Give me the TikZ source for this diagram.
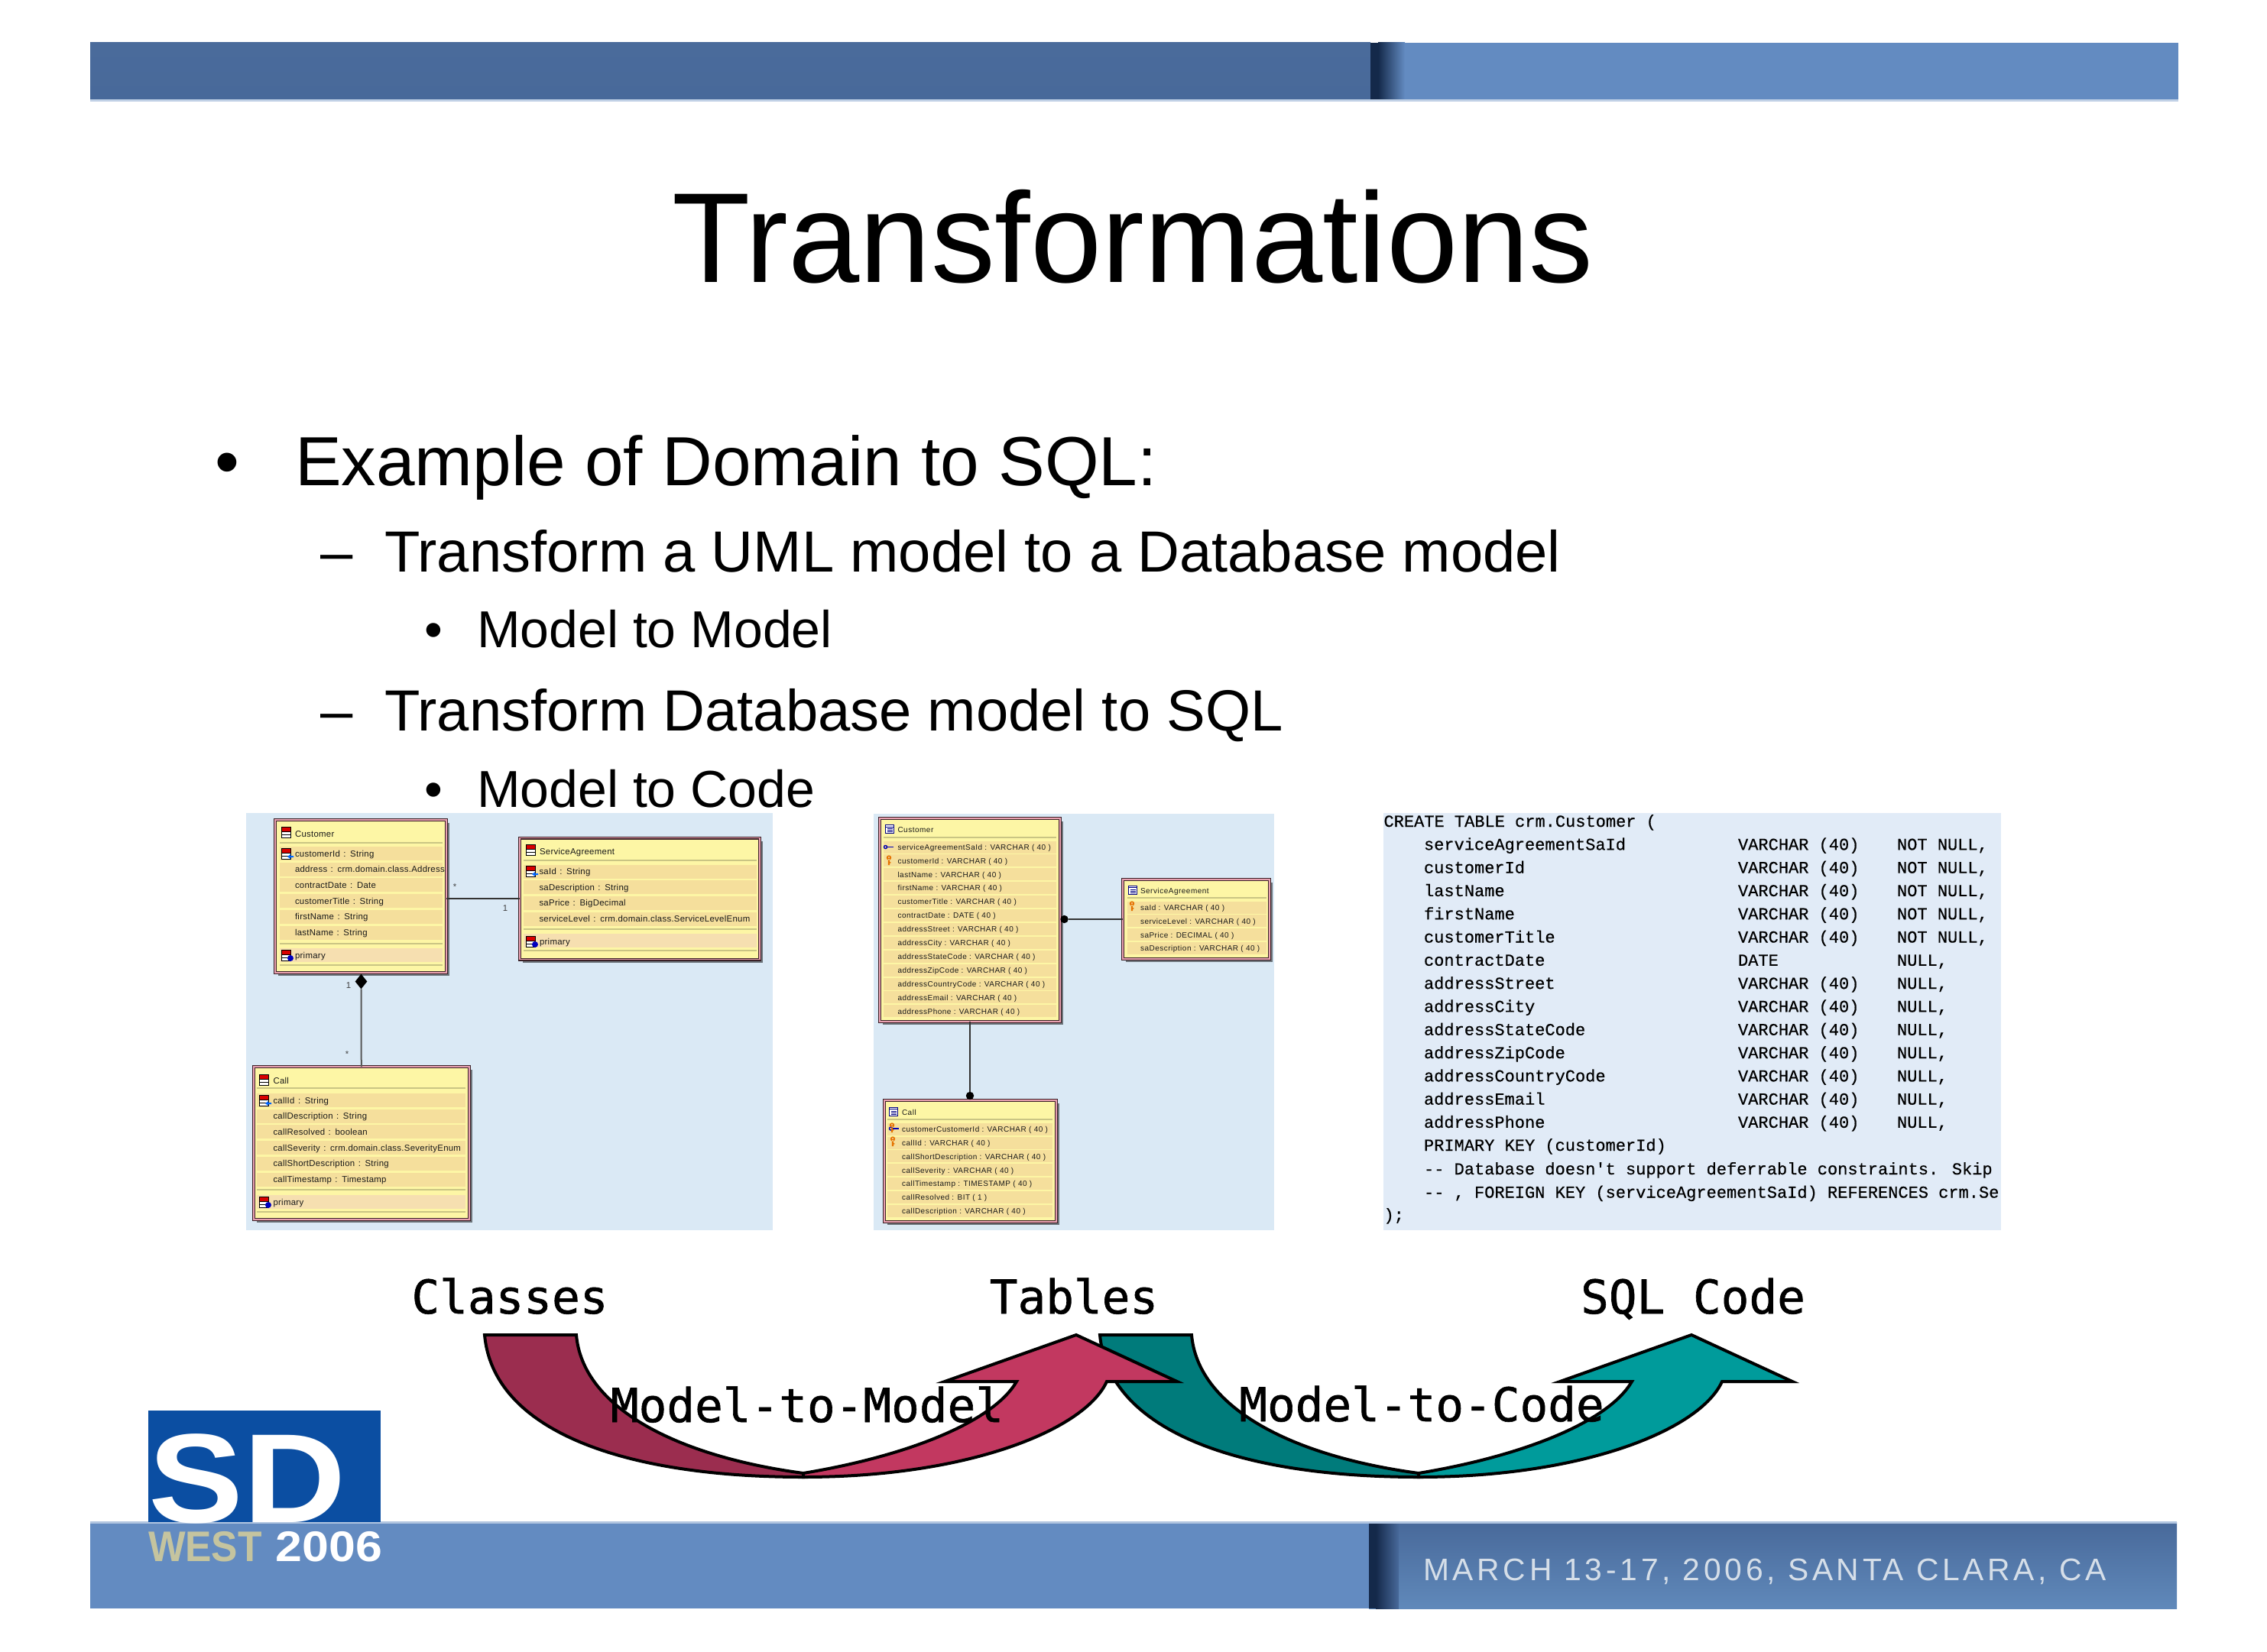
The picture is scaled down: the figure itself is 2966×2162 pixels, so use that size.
\documentclass[tikz,border=0pt]{standalone}
\usepackage{fontspec}
\usetikzlibrary{shapes.geometric,shadows}
\setmainfont{Liberation Sans}
\newfontfamily\umlfont[LetterSpace=2.5,WordSpace=1.3]{Liberation Sans}
\newfontfamily\erfont[LetterSpace=5]{Liberation Sans}
\newfontfamily\datefont[LetterSpace=11.6]{Liberation Sans}
\newfontfamily\sqlfont[FakeBold=0.5]{Liberation Mono}
\newfontfamily\labelfont[FakeBold=1]{DejaVu Sans Mono}
\newfontfamily\logofont[FakeStretch=1.12]{Liberation Sans}
\newfontfamily\westfont[FakeStretch=0.92]{Liberation Sans}
\definecolor{bandlight}{HTML}{638BC1}
\definecolor{bandtop}{HTML}{4A6B9B}
\definecolor{bandmid}{HTML}{4474AE}
\definecolor{bandlow}{HTML}{48699A}
\definecolor{bandink}{HTML}{14294A}
\definecolor{panelblue}{HTML}{DAE9F5}
\definecolor{sqlblue}{HTML}{E1EBF7}
\definecolor{boxyellow}{HTML}{FDF6A5}
\definecolor{rowgold}{HTML}{F5DF9C}
\definecolor{rowpeach}{HTML}{F6DFB0}
\definecolor{boxrim}{HTML}{E8A0B0}
\definecolor{boxedge}{HTML}{3A2026}
\definecolor{logoblue}{HTML}{0B4EA2}
\definecolor{westtan}{HTML}{C5C49F}
\definecolor{datewhite}{HTML}{D5DEE8}
\definecolor{wineleft}{HTML}{9B2D4F}
\definecolor{wineright}{HTML}{C23860}
\definecolor{tealleft}{HTML}{007B7B}
\definecolor{tealright}{HTML}{009B9B}
\begin{document}
\begin{tikzpicture}[
  x=0.25pt, y=-0.25pt,
  every node/.style={inner sep=0pt, outer sep=0pt},
  umlbox/.style={draw=boxedge, line width=0.35pt, double=boxrim, double distance=0.3pt, fill=boxyellow,
    drop shadow={shadow xshift=1pt, shadow yshift=-1pt, fill=black, opacity=0.5}},
  umltext/.style={anchor=base west, text=black!90, font=\umlfont\fontsize{2.85}{3}\selectfont},
  ertext/.style={anchor=base west, text=black!90, font=\erfont\fontsize{2.5}{3}\selectfont},
  sqltext/.style={anchor=base west, font=\sqlfont\fontsize{5.5}{6}\selectfont},
  titletext/.style={anchor=base, font=\fontsize{41.9}{44}\selectfont},
  levelone/.style={anchor=base west, font=\fontsize{22.75}{25}\selectfont},
  leveltwo/.style={anchor=base west, font=\fontsize{19}{21}\selectfont},
  levelthree/.style={anchor=base west, font=\fontsize{17}{19}\selectfont},
  arrowlabel/.style={anchor=base, font=\labelfont\fontsize{15.25}{16}\selectfont},
  mult/.style={text=black!75, font=\fontsize{2.85}{3}\selectfont},
  link/.style={draw=black!80, line width=0.35pt},
  knob/.style={circle, fill=black, minimum size=2.6pt},
  divider/.style={draw=black!20!boxyellow, line width=0.3pt},
  iconline/.style={draw=black, line width=0.2pt},
  classicon/.pic={
    \fill[white] (-6,-7) rectangle (6,7);
    \fill[red!85!black] (-6,-7) rectangle (6,-1);
    \draw[iconline] (-6,-7) rectangle (6,7) (-6,-1) -- (6,-1) (-6,3) -- (6,3);
  },
  attricon/.pic={
    \pic {classicon};
    \fill[blue!60!cyan] (2,4) -- (6,1) -- (6,3) -- (10,3) -- (10,5) -- (6,5) -- (6,7) -- cycle;
  },
  primaryicon/.pic={
    \pic {classicon};
    \fill[blue!75!black] (6,4) circle (4);
  },
  tableicon/.pic={
    \fill[white] (-5.5,-5.5) rectangle (5.5,5.5);
    \draw[blue!50!black, line width=0.25pt] (-5.5,-5.5) rectangle (5.5,5.5) (-5.5,-3) -- (5.5,-3);
    \draw[blue!50!black, line width=0.2pt] (-3.5,-0.5) -- (3.5,-0.5) (-3.5,1.5) -- (3.5,1.5) (-3.5,3.5) -- (3.5,3.5);
  },
  goldkey/.pic={
    \fill[orange!90!black] (0,-3.5) circle (3.2) (-1.2,-2) rectangle (1.2,6) (1.2,2) rectangle (2.4,3.5);
    \fill[white] (0,-4) circle (0.9);
  },
  bluekey/.pic={
    \draw[blue!70!black, line width=0.35pt] (-4.5,0) circle (2);
    \fill[blue!70!black] (-2.5,-0.8) rectangle (5.5,0.8);
  },
]
\useasboundingbox (0,0) rectangle (2966,2162);

\fill[bandlight] (118,56) rectangle (2850,133);
\shade[top color=bandtop, middle color=bandmid, bottom color=bandlow] (118,56) rectangle (1793,131);
\fill[bandink] (1793,56) rectangle (1803,131);
\shade[left color=bandink, right color=bandlight] (1803,56) rectangle (1838,131);
\fill[bandlight!40!white] (118,130) rectangle (2850,133);

\fill[bandlight] (118,1992) rectangle (2848,2105);
\shade[top color=bandlow, bottom color=bandmid!85!white] (1791,1992) rectangle (2848,2105);
\fill[bandink] (1791,1994) rectangle (1800,2105);
\shade[left color=bandink, right color=bandlow] (1800,1994) rectangle (1830,2105);
\fill[bandlight!50!white] (118,1991) rectangle (2848,1994);

\node[titletext] (title) at (1482,369) {Transformations};
\node[levelone] (bulletA) at (281,635) {•};
\node[levelone] (itemA) at (386,635) {Example of Domain to SQL:};
\node[leveltwo] (dashA) at (419,748) {–};
\node[leveltwo] (itemB) at (503,748) {Transform a UML model to a Database model};
\node[levelthree] (bulletB) at (555,847) {•};
\node[levelthree] (itemC) at (624,847) {Model to Model};
\node[leveltwo] (dashB) at (419,956) {–};
\node[leveltwo] (itemD) at (503,956) {Transform Database model to SQL};
\node[levelthree] (bulletC) at (555,1056) {•};
\node[levelthree] (itemE) at (624,1056) {Model to Code};

\fill[panelblue] (322,1064) rectangle (1011,1610);
\fill[panelblue] (1143,1065) rectangle (1667,1610);
\fill[sqlblue] (1810,1064) rectangle (2618,1610);

\node[umlbox, minimum width=56pt, minimum height=50pt] (cust) at (472,1173) {};
\node[umlbox, minimum width=78.5pt, minimum height=39.75pt] (sagr) at (837,1176) {};
\node[umlbox, minimum width=70.5pt, minimum height=50pt] (call) at (473,1496) {};
\node[diamond, fill=black, minimum width=3.9pt, minimum height=4.9pt] (comp) at (472.5,1284.5) {};
\draw[link] (sagr.west) -- (sagr.west -| cust.east);
\draw[link, draw=black!65, line width=0.5pt] (comp) -- (call);
\node[mult] (star1) at (595,1161) {*};
\node[mult] (one1) at (661,1189) {1};
\node[mult] (one2) at (456,1290) {1};
\node[mult] (star2) at (454,1380) {*};

\foreach \y in {1103,1235,1263} \draw[divider] (366,\y) -- (579,\y);
\foreach \i/\txt [evaluate=\i as \y using 1117+\i*20.7] in {0/customerId : String, 1/address : crm.domain.class.Address, 2/contractDate : Date, 3/customerTitle : String, 4/firstName : String, 5/lastName : String} {
  \fill[rowgold] (366,\y-9) rectangle (579,\y+9);
  \node[umltext] (custrow\i) at (386,\y+4) {\txt};
}
\fill[rowpeach] (366,1241) rectangle (579,1259);
\node[umltext] (custtitle) at (386,1095) {Customer};
\node[umltext] (custprim) at (386,1254) {primary};
\pic at (374,1089.5) {classicon};
\pic at (374,1117) {attricon};
\pic at (374,1250) {primaryicon};

\foreach \y in {1126,1216,1244} \draw[divider] (685,\y) -- (990,\y);
\foreach \i/\txt [evaluate=\i as \y using 1140.5+\i*20.7] in {0/saId : String, 1/saDescription : String, 2/saPrice : BigDecimal, 3/serviceLevel : crm.domain.class.ServiceLevelEnum} {
  \fill[rowgold] (685,\y-9) rectangle (990,\y+9);
  \node[umltext] (sagrrow\i) at (705.5,\y+4) {\txt};
}
\fill[rowpeach] (685,1222) rectangle (990,1240);
\node[umltext] (sagrtitle) at (706,1118) {ServiceAgreement};
\node[umltext] (sagrprim) at (706,1236) {primary};
\pic at (694,1112) {classicon};
\pic at (694,1140) {attricon};
\pic at (694,1232) {primaryicon};

\foreach \y in {1424,1557,1586} \draw[divider] (336,\y) -- (609,\y);
\foreach \i/\txt [evaluate=\i as \y using 1440+\i*20.7] in {0/callId : String, 1/callDescription : String, 2/callResolved : boolean, 3/callSeverity : crm.domain.class.SeverityEnum, 4/callShortDescription : String, 5/callTimestamp : Timestamp} {
  \fill[rowgold] (336,\y-9) rectangle (609,\y+9);
  \node[umltext] (callrow\i) at (357.5,\y+4) {\txt};
}
\fill[rowpeach] (336,1564) rectangle (609,1582);
\node[umltext] (calltitle) at (357.5,1418) {Call};
\node[umltext] (callprim) at (357.5,1577) {primary};
\pic at (345,1413) {classicon};
\pic at (345,1440) {attricon};
\pic at (345,1573) {primaryicon};

\node[umlbox, minimum width=59pt, minimum height=66.5pt] (ercust) at (1269,1204) {};
\node[umlbox, minimum width=48pt, minimum height=26pt] (ersagr) at (1565,1203) {};
\node[umlbox, minimum width=56.25pt, minimum height=39.75pt] (ercall) at (1269.5,1519.5) {};
\node[knob] (dot1) at (1392.5,1203) {};
\node[knob] (dot2) at (1269,1434) {};
\draw[link] (ersagr.west) -- (dot1);
\draw[link] (ercust.south) -- (dot2);

\draw[divider] (1156,1096) -- (1382,1096);
\foreach \i/\txt [evaluate=\i as \y using 1108.5+\i*17.9] in {0/serviceAgreementSaId : VARCHAR ( 40 ), 1/customerId : VARCHAR ( 40 ), 2/lastName : VARCHAR ( 40 ), 3/firstName : VARCHAR ( 40 ), 4/customerTitle : VARCHAR ( 40 ), 5/contractDate : DATE ( 40 ), 6/addressStreet : VARCHAR ( 40 ), 7/addressCity : VARCHAR ( 40 ), 8/addressStateCode : VARCHAR ( 40 ), 9/addressZipCode : VARCHAR ( 40 ), 10/addressCountryCode : VARCHAR ( 40 ), 11/addressEmail : VARCHAR ( 40 ), 12/addressPhone : VARCHAR ( 40 )} {
  \fill[rowgold] (1156,\y-8) rectangle (1382,\y+8);
  \node[ertext] (ercustrow\i) at (1174.5,\y+3.7) {\txt};
}
\node[ertext] (ercusttitle) at (1174.5,1089.5) {Customer};
\pic at (1164,1085) {tableicon};
\pic at (1163,1108.5) {bluekey};
\pic at (1163,1126) {goldkey};

\draw[divider] (1475,1175) -- (1657,1175);
\foreach \i/\txt [evaluate=\i as \y using 1187.5+\i*17.9] in {0/saId : VARCHAR ( 40 ), 1/serviceLevel : VARCHAR ( 40 ), 2/saPrice : DECIMAL ( 40 ), 3/saDescription : VARCHAR ( 40 )} {
  \fill[rowgold] (1475,\y-8) rectangle (1657,\y+8);
  \node[ertext] (ersagrrow\i) at (1492,\y+3.7) {\txt};
}
\node[ertext] (ersagrtitle) at (1492,1169) {ServiceAgreement};
\pic at (1482,1164.5) {tableicon};
\pic at (1481,1186) {goldkey};

\draw[divider] (1161,1465) -- (1377,1465);
\foreach \i/\txt [evaluate=\i as \y using 1477.6+\i*17.9] in {0/customerCustomerId : VARCHAR ( 40 ), 1/callId : VARCHAR ( 40 ), 2/callShortDescription : VARCHAR ( 40 ), 3/callSeverity : VARCHAR ( 40 ), 4/callTimestamp : TIMESTAMP ( 40 ), 5/callResolved : BIT ( 1 ), 6/callDescription : VARCHAR ( 40 )} {
  \fill[rowgold] (1161,\y-8) rectangle (1377,\y+8);
  \node[ertext] (ercallrow\i) at (1180,\y+3.7) {\txt};
}
\node[ertext] (ercalltitle) at (1180,1459) {Call};
\pic at (1169,1454.5) {tableicon};
\pic at (1170,1477) {bluekey};
\pic at (1167,1476) {goldkey};
\pic at (1168,1494) {goldkey};

\node[sqltext] (sqlhead) at (1810.5,1082) {CREATE TABLE crm.Customer (};
\foreach \i/\nm/\ty/\nn [evaluate=\i as \y using 1112.3+\i*30.3] in {0/serviceAgreementSaId/VARCHAR (40)/{NOT NULL,}, 1/customerId/VARCHAR (40)/{NOT NULL,}, 2/lastName/VARCHAR (40)/{NOT NULL,}, 3/firstName/VARCHAR (40)/{NOT NULL,}, 4/customerTitle/VARCHAR (40)/{NOT NULL,}, 5/contractDate/DATE/{NULL,}, 6/addressStreet/VARCHAR (40)/{NULL,}, 7/addressCity/VARCHAR (40)/{NULL,}, 8/addressStateCode/VARCHAR (40)/{NULL,}, 9/addressZipCode/VARCHAR (40)/{NULL,}, 10/addressCountryCode/VARCHAR (40)/{NULL,}, 11/addressEmail/VARCHAR (40)/{NULL,}, 12/addressPhone/VARCHAR (40)/{NULL,}} {
  \node[sqltext] (sqlname\i) at (1863,\y) {\nm};
  \node[sqltext] (sqltype\i) at (2274,\y) {\ty};
  \node[sqltext] (sqlnull\i) at (2482,\y) {\nn};
}
\node[sqltext] (sqlkey) at (1863,1506) {PRIMARY KEY (customerId)};
\node[sqltext] (sqlskip) at (1863,1537) {-- Database doesn't support deferrable constraints. Skip};
\node[sqltext] (sqlfk) at (1863,1567.5) {-- , FOREIGN KEY (serviceAgreementSaId) REFERENCES crm.Se};
\node[sqltext] (sqlend) at (1810.5,1597) {);};

\fill[logoblue] (194,1846) rectangle (498,1992);
\node[anchor=base, text=white, font=\logofont\bfseries\fontsize{41.5}{44}\selectfont] (logoSD) at (324,1992) {SD};
\node[anchor=base west, text=westtan, font=\westfont\bfseries\fontsize{14}{15}\selectfont] (logoWest) at (194,2043) {WEST};
\node[anchor=base east, text=white, font=\logofont\bfseries\fontsize{14}{15}\selectfont] (logoYear) at (500,2043) {2006};
\node[anchor=base west, text=datewhite, font=\datefont\fontsize{10.2}{11}\selectfont] (dateline) at (1862,2068) {MARCH 13-17, 2006, SANTA CLARA, CA};

\foreach \dx/\lc/\rc in {805/tealleft/tealright, 0/wineleft/wineright} {
  \begin{scope}[shift={(\dx,0)}, draw=black, line width=1pt, line join=miter]
    \filldraw[fill=\lc] (634,1747) .. controls (645,1870) and (810,1933) .. (1051,1933)
      -- (1051,1928) .. controls (880,1905) and (762,1840) .. (754,1747) -- cycle;
    \filldraw[fill=\rc] (1051,1933) .. controls (1270,1933) and (1420,1870) .. (1448,1808)
      -- (1540,1808) -- (1408,1747) -- (1236,1808) -- (1330,1808)
      .. controls (1300,1860) and (1190,1905) .. (1051,1928) -- cycle;
  \end{scope}
}

\node[arrowlabel] (classes) at (667,1719) {Classes};
\node[arrowlabel] (tables) at (1405,1719) {Tables};
\node[arrowlabel] (sqlcode) at (2215,1719) {SQL Code};
\node[arrowlabel] (m2m) at (1056,1861) {Model-to-Model};
\node[arrowlabel] (m2c) at (1860,1860) {Model-to-Code};
\end{tikzpicture}
\end{document}
